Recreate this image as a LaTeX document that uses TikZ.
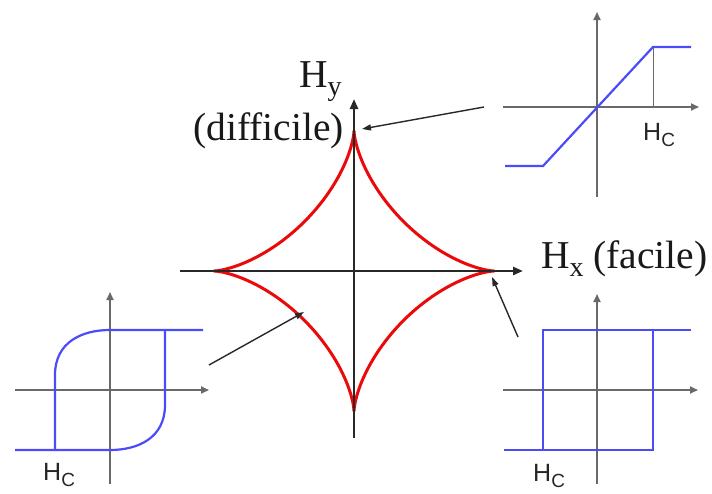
\documentclass[tikz,border=0pt]{standalone}
\usepackage{fontspec}
\setmainfont{Liberation Serif}
\newfontfamily\arialf{Liberation Sans}
\usetikzlibrary{arrows.meta}
\definecolor{axgray}{RGB}{105,105,105}
\definecolor{axdark}{RGB}{40,40,40}
\definecolor{loopblue}{RGB}{75,75,250}
\definecolor{astred}{RGB}{235,10,10}
\newcommand\sertxtsub[1]{\raisebox{-8pt}{\fontsize{28}{28}\selectfont #1}}
\newcommand\hcsub{H\raisebox{-6pt}{\fontsize{19}{19}\selectfont C}}
\begin{document}
\begin{tikzpicture}[x=1pt,y=-1pt,
  smallaxis/.style={draw=axgray,line width=1.8pt,-{Triangle[length=8pt,width=7pt]}},
  thinline/.style={draw=axgray,line width=1pt},
  bigaxis/.style={draw=axdark,line width=2.6pt,-{Triangle[length=10pt,width=8pt]}},
  hyst/.style={draw=loopblue,line width=2.2pt},
  pointer/.style={draw=axdark,line width=1.4pt,-{Triangle[length=9pt,width=6pt]}},
  serlabel/.style={font=\fontsize{39.5}{42}\selectfont,inner sep=0pt,text=black!90},
  hclabel/.style={font=\arialf\fontsize{25}{26}\selectfont,inner sep=0pt,text=black!85}]
\useasboundingbox (0,0) rectangle (712,493);
\fill[white] (0,0) rectangle (712,493);

% ---- central astroid
\draw[astred,line width=3pt,line join=round]
  plot[domain=0:360,samples=241,smooth]
  ({354+140*cos(\x)*cos(\x)*cos(\x)},{271+140*sin(\x)*sin(\x)*sin(\x)}) -- cycle;
\coordinate (cO) at (354,271);
\coordinate (cxs) at (180,271);
\coordinate (cxe) at (523,271);
\coordinate (cys) at (354,438);
\coordinate (cye) at (354,99);
\draw[bigaxis] (cxs) -- (cxe);
\draw[bigaxis] (cys) -- (cye);

\node[serlabel,anchor=base west] (hy) at (299,87) {H\sertxtsub{y}};
\node[serlabel,anchor=base west] (diff) at (193,140) {(difficile)};
\node[serlabel,anchor=base west] (hx) at (541,268) {H\sertxtsub{x} (facile)};

% ---- top-right plot (linear)
\coordinate (a1s) at (503,107);
\coordinate (a1e) at (699,107);
\coordinate (a1b) at (597,197);
\coordinate (a1t) at (597,12);
\draw[smallaxis] (a1s) -- (a1e);
\draw[smallaxis] (a1b) -- (a1t);
\coordinate (l1) at (505,166);
\coordinate (l2) at (543,166);
\coordinate (l3) at (653,47);
\coordinate (l4) at (691,47);
\coordinate (l3b) at (653,107);
\draw[thinline] (l3) -- (l3b);
\draw[hyst] (l1) -- (l2) -- (l3) -- (l4);
\node[hclabel,anchor=base west] (hc1) at (643,140) {\hcsub};

% ---- bottom-left plot (rounded loop)
\coordinate (b1s) at (15,390);
\coordinate (b1e) at (209,390);
\coordinate (b1b) at (110,484);
\coordinate (b1t) at (110,292);
\draw[smallaxis] (b1s) -- (b1e);
\draw[smallaxis] (b1b) -- (b1t);
\draw[hyst,line join=round] (15,450) -- (110,450) .. controls (138,450) and (165,438) .. (165,405) -- (165,330);
\draw[hyst,line join=round] (203,330) -- (110,330) .. controls (82,330) and (55,342) .. (55,375) -- (55,450);
\node[hclabel,anchor=base west] (hc2) at (43,480) {\hcsub};

% ---- bottom-right plot (square loop)
\coordinate (c1s) at (503,390);
\coordinate (c1e) at (698,390);
\coordinate (c1b) at (597,484);
\coordinate (c1t) at (597,294);
\draw[smallaxis] (c1s) -- (c1e);
\draw[smallaxis] (c1b) -- (c1t);
\draw[hyst] (504,450) -- (653,450) -- (653,330);
\draw[hyst] (543,450) -- (543,330) -- (691,330);
\node[hclabel,anchor=base west] (hc3) at (533,481) {\hcsub};

% ---- pointers
\coordinate (p1s) at (484,107);
\coordinate (p1e) at (362,129);
\coordinate (p2s) at (209,365);
\coordinate (p2e) at (304,312);
\coordinate (p3s) at (518,337);
\coordinate (p3e) at (492,277);
\draw[pointer] (p1s) -- (p1e);
\draw[pointer] (p2s) -- (p2e);
\draw[pointer] (p3s) -- (p3e);
\end{tikzpicture}
\end{document}
